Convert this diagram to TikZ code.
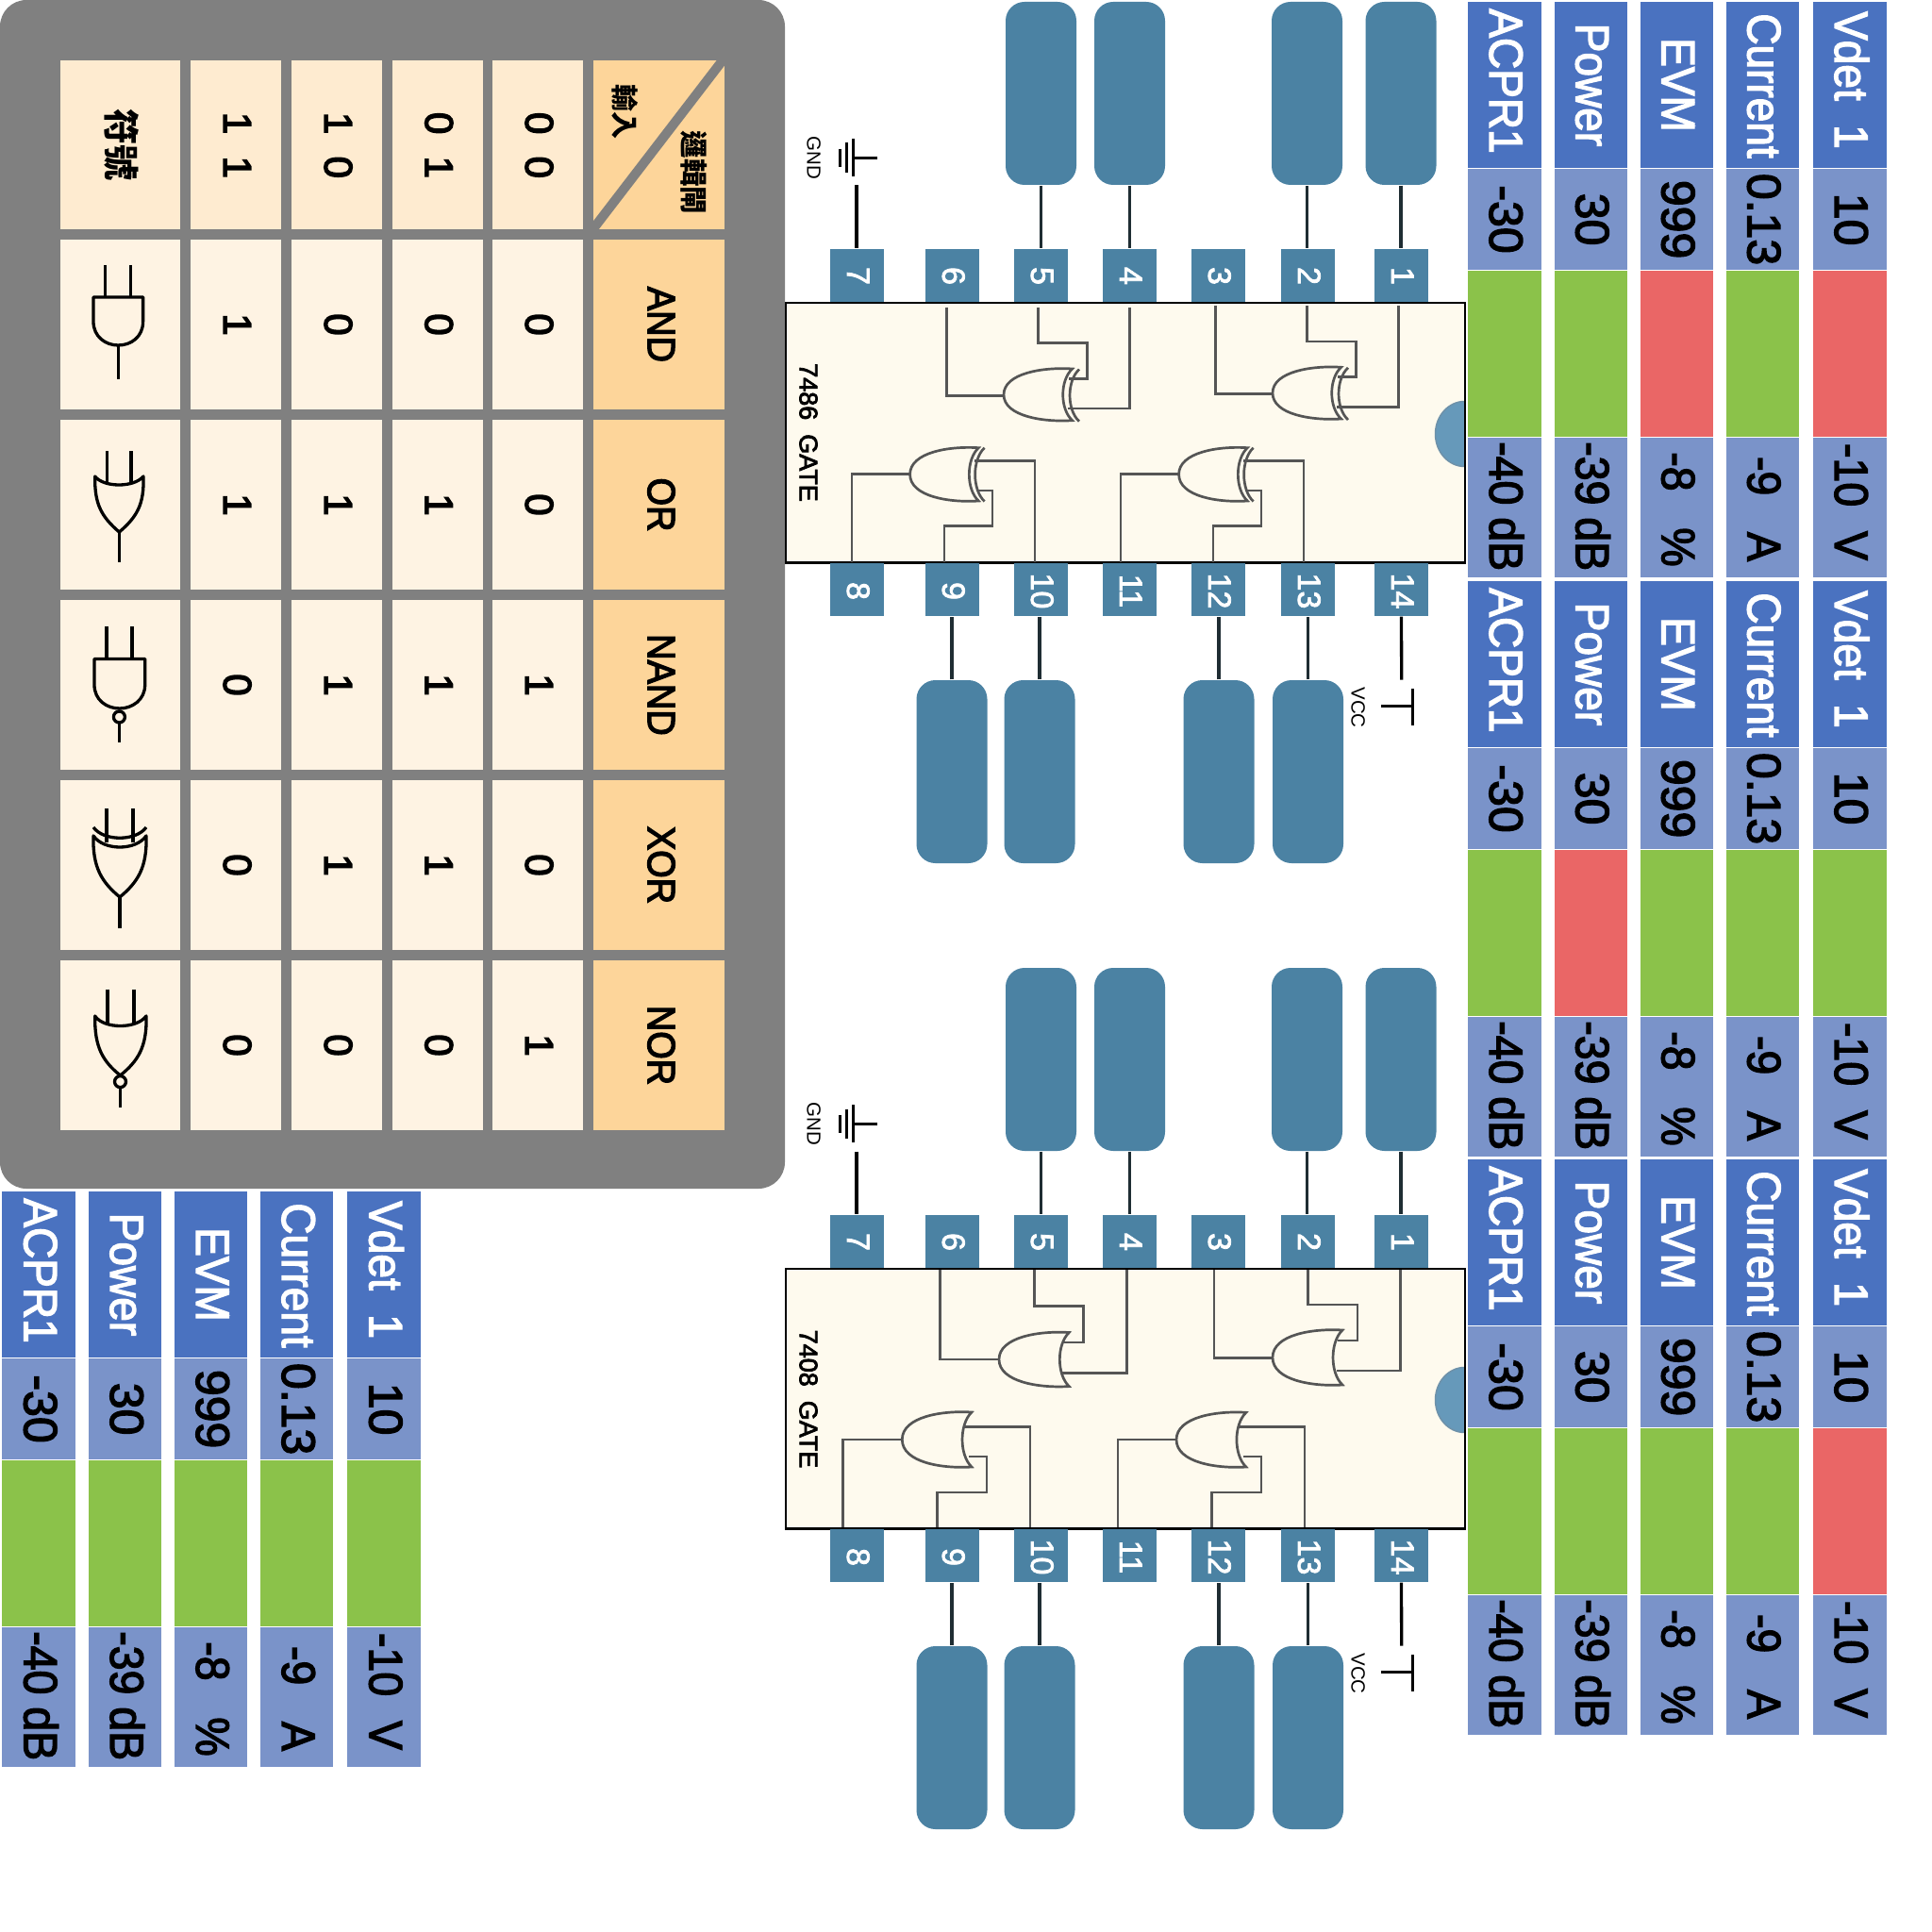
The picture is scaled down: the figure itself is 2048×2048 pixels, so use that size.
\documentclass[tikz,border=0pt]{standalone}
\usepackage{fontspec}
\usepackage{graphicx}
\setmainfont{Liberation Sans}
\newfontfamily\cjkfont{Noto Sans CJK TC}
\definecolor{panelgray}{HTML}{808080}
\definecolor{hdrorange}{HTML}{FDD59A}
\definecolor{rowtop}{HTML}{FEEBD0}
\definecolor{rowlight}{HTML}{FEF3E3}
\definecolor{pinblue}{HTML}{4B82A3}
\definecolor{chipfill}{HTML}{FEFAEE}
\definecolor{notchblue}{HTML}{6699BA}
\definecolor{wiregray}{HTML}{555555}
\definecolor{leaddark}{HTML}{1F2D33}
\definecolor{hdblue}{HTML}{4A72C0}
\definecolor{valblue}{HTML}{7A93C9}
\definecolor{okgreen}{HTML}{8BC24A}
\definecolor{badred}{HTML}{EA6666}
\newcounter{tcnt}
\newcommand{\pxf}[1]{\pgfmathsetmacro\tmpfs{#1*0.2845}\fontsize{\tmpfs pt}{\tmpfs pt}\selectfont}
\newcommand{\thick}{\special{pdf:code 2 Tr 0.4 w}}
\newcommand{\midthick}{\special{pdf:code 2 Tr 0.22 w}}
\newcommand{\unthick}{\special{pdf:code 0 Tr}}
% name x1 y1 x2 y2 style
\newcommand{\rectnode}[6]{%
  \pgfmathsetmacro\rcx{(#2+#4)/2}\pgfmathsetmacro\rcy{(#3+#5)/2}%
  \node[rectangle,inner sep=0pt,minimum width={(#4-#2)*0.1mm},minimum height={(#5-#3)*0.1mm},#6] (#1) at (\rcx,\rcy) {};}
% x y size style text
\newcommand{\tlab}[5]{\stepcounter{tcnt}\pgfmathsetmacro\tlx{#1+0.05*#3}\node[lab={#3},#4] (t\thetcnt) at (\tlx,#2) {#5};}
\tikzset{
  lab/.style={rotate=-90,inner sep=0pt,text height=0.716*#1*0.2845pt,text depth=0pt,font=\pxf{#1}},
  symline/.style={black,line width=0.33mm,line join=round},
  wire/.style={wiregray,line width=0.27mm,line join=miter},
  leadline/.style={leaddark,line width=0.33mm},
  pwrsym/.style={black,line width=0.3mm},
}
% gate body: apex-x tip-x ytop ybottom back-depth
\newcommand{\gatebody}[5]{%
  \pgfmathsetmacro\gc{(#3+#4)/2}\pgfmathsetmacro\gh{#4-#3}\pgfmathsetmacro\gl{#2-#1}%
  \pgfmathsetmacro\gA{#2-0.42*\gl}%
  \pgfmathsetmacro\gD{#2-1.33*#5}\pgfmathsetmacro\gE{\gc-0.28*\gh}\pgfmathsetmacro\gF{\gc+0.28*\gh}%
  \draw[wire] (#2,#3) .. controls (\gA,#3-2) and (#1,\gc-0.42*\gh) .. (#1,\gc)
     .. controls (#1,\gc+0.42*\gh) and (\gA,#4+2) .. (#2,#4)
     .. controls (\gD,\gF) and (\gD,\gE) .. (#2,#3) -- cycle;}
% back arc: tip-x ytop ybottom depth
\newcommand{\gateback}[4]{%
  \pgfmathsetmacro\gc{(#2+#3)/2}\pgfmathsetmacro\gh{#3-#2}\pgfmathsetmacro\gD{#1-1.33*#4}%
  \draw[wire] (#1,#2) .. controls (\gD,\gc-0.28*\gh) and (\gD,\gc+0.28*\gh) .. (#1,#3);}
% prefix dx dy then five status colours
\newcommand{\measblock}[8]{%
  \begin{scope}[shift={(#2,#3)}]
  \foreach \xa/\xb/\hd/\hy/\va/\vb/\vy/\st/\cn in {
     1555/1634/ACPR1/86/-30/{-40 dB}/536.7/#4/a,
     1647/1725/Power/90/30/{-39 dB}/536.7/#5/b,
     1738/1816/EVM/90/999/{-8~~~\%}/540/#6/c,
     1829/1907/Current/91/0.13/{-9~~~A}/539.5/#7/d,
     1921/2000/{Vdet~~1}/85/10/{-10~~V}/532/#8/e}{
    \rectnode{#1\cn h}{\xa}{1}{\xb}{178.4}{fill=hdblue,draw=white,line width=0.05mm}
    \rectnode{#1\cn v}{\xa}{178.4}{\xb}{286.5}{fill=valblue,draw=white,line width=0.05mm}
    \rectnode{#1\cn s}{\xa}{286.5}{\xb}{463.5}{fill=\st,draw=white,line width=0.05mm}
    \rectnode{#1\cn w}{\xa}{463.5}{\xb}{611.8}{fill=valblue,draw=white,line width=0.05mm}
    \pgfmathsetmacro\mx{(\xa+\xb)/2}
    \tlab{\mx}{\hy}{50}{white}{\scalebox{0.92}[1]{\thick\hd\unthick}}
    \tlab{\mx}{232.6}{50}{black}{\thick\va\unthick}
    \tlab{\mx}{\vy}{50}{black}{\scalebox{0.93}[1]{\thick\vb\unthick}}
  }
  \end{scope}}
\begin{document}
\begin{tikzpicture}[x=0.1mm,y=-0.1mm]
\useasboundingbox (0,0) rectangle (2048,2048);
% ===== truth table panel =====
\rectnode{panel}{0}{0}{832}{1260}{fill=panelgray,rounded corners=2.8mm}
\rectnode{corner}{629}{64}{767.5}{243}{fill=hdrorange}
\coordinate (diagA) at (767.5,62);
\coordinate (diagB) at (627,245);
\draw[panelgray,line width=1mm] (diagA) -- (diagB);
\tlab{660}{119}{29}{}{\cjkfont\bfseries 輸入}
\tlab{734}{183}{29.5}{}{\cjkfont\bfseries 邏輯閘}
\rectnode{symhd}{64}{64}{191}{243}{fill=rowtop}
\tlab{126}{154}{38}{}{\cjkfont\bfseries 符號}
\foreach \xa/\xb/\tx/\cn in {202/298/1~~1/a,309/405/1~~0/b,416/511.5/0~~1/c,522/618/0~~0/d}{
  \rectnode{in\cn}{\xa}{64}{\xb}{243}{fill=rowtop}
  \pgfmathsetmacro\mx{(\xa+\xb)/2}
  \tlab{\mx}{154}{42}{}{\thick\tx\unthick}
}
\foreach \yt/\nm/\va/\vb/\vc/\vd in {254/AND/1/0/0/0,445/OR/1/1/1/0,636/NAND/0/1/1/1,827/XOR/0/1/1/0,1018/NOR/0/0/0/1}{
  \pgfmathsetmacro\yb{\yt+180}\pgfmathsetmacro\ym{\yt+90}
  \rectnode{s\nm}{64}{\yt}{191}{\yb}{fill=rowlight}
  \rectnode{a\nm}{202}{\yt}{298}{\yb}{fill=rowlight}
  \rectnode{b\nm}{309}{\yt}{405}{\yb}{fill=rowlight}
  \rectnode{c\nm}{416}{\yt}{511.5}{\yb}{fill=rowlight}
  \rectnode{d\nm}{522}{\yt}{618}{\yb}{fill=rowlight}
  \rectnode{e\nm}{629}{\yt}{767.5}{\yb}{fill=hdrorange}
  \tlab{250}{\ym}{42}{}{\thick\va\unthick}
  \tlab{357}{\ym}{42}{}{\thick\vb\unthick}
  \tlab{463.7}{\ym}{42}{}{\thick\vc\unthick}
  \tlab{570}{\ym}{42}{}{\thick\vd\unthick}
  \tlab{699.5}{\ym}{41}{}{\scalebox{0.925}[1]{\thick\nm\unthick}}
}
% gate symbols
\draw[symline] (111.4,281) -- (111.4,315) (138.7,281) -- (138.7,315);
\draw[symline] (99,315) -- (151.6,315) -- (151.6,341) .. controls (151.6,357) and (139,366) .. (125.3,366) .. controls (112,366) and (99,357) .. (99,341) -- cycle;
\draw[symline] (125.3,366) -- (125.3,402);
\draw[symline] (113.5,478) -- (113.5,512) (139,478) -- (139,512);
\draw[symline] (100.7,505) .. controls (110,517) and (142,517) .. (152,505) .. controls (153,535) and (145,548) .. (126.4,564) .. controls (108,548) and (100,535) .. (100.7,505) -- cycle;
\draw[symline] (126.4,564) -- (126.4,595.5);
\draw[symline] (113,664) -- (113,698.4) (140,664) -- (140,698.4);
\draw[symline] (100,698.4) -- (153.7,698.4) -- (153.7,726) .. controls (153.7,742) and (140,751) .. (126.8,751) .. controls (113,751) and (100,742) .. (100,726) -- cycle;
\draw[symline] (126.4,760) ellipse (6 and 6);
\draw[symline] (126.4,766) -- (126.4,787);
\draw[symline] (113,857) -- (113,893) (141,857) -- (141,893);
\draw[symline] (99,877) .. controls (110,892) and (144,892) .. (155,877);
\draw[symline] (99,886) .. controls (110,902) and (144,902) .. (155,886) .. controls (156,920) and (146,935) .. (127,951) .. controls (108,935) and (98,920) .. (99,886) -- cycle;
\draw[symline] (127,951) -- (127,984);
\draw[symline] (114,1048.6) -- (114,1085) (142,1048.6) -- (142,1085);
\draw[symline] (100.7,1077) .. controls (110,1091) and (145,1091) .. (155,1077) .. controls (156,1110) and (146,1125) .. (127.5,1140) .. controls (109,1125) and (100,1110) .. (100.7,1077) -- cycle;
\draw[symline] (127.5,1146.6) ellipse (6 and 6);
\draw[symline] (127.5,1153) -- (127.5,1174);
% ===== chips =====
\foreach \off/\c/\chipnum/\laby in {0/a/7486/458.5,1024/b/7408/459}{
\begin{scope}[shift={(0,\off)}]
  \rectnode{\c chip}{833.5}{321.5}{1552.5}{596}{fill=chipfill}
  \begin{scope}
    \clip (833,321) rectangle (1552.5,596);
    \draw[notchblue!70!gray,fill=notchblue,line width=0.15mm] (1552.5,460) ellipse (31 and 34.5);
  \end{scope}
  \draw[black,line width=0.25mm] (\c chip.north west) rectangle (\c chip.south east);
  \tlab{856}{\laby}{27}{}{\midthick\chipnum~~GATE\unthick}
  % pins
  \foreach \n/\m/\xl in {7/8/880,6/9/981,5/10/1075,4/11/1169,3/12/1263,2/13/1358,1/14/1457}{
    \pgfmathsetmacro\xr{\xl+57}\pgfmathsetmacro\xm{\xl+28.5}
    \rectnode{\c p\n}{\xl}{264}{\xr}{320}{fill=pinblue}
    \rectnode{\c p\m}{\xl}{596.5}{\xr}{653}{fill=pinblue}
    \tlab{\xm}{292.5}{34}{white}{\midthick\n\unthick}
    \tlab{\xm}{626.5}{34}{white}{\midthick\m\unthick}
  }
  % pads and leads, top
  \foreach \n/\xl in {5/1066,4/1160,2/1348,1/1447.5}{
    \pgfmathsetmacro\xr{\xl+75}
    \rectnode{\c k\n}{\xl}{2}{\xr}{196}{fill=pinblue,rounded corners=2mm}
    \draw[leadline] (\c k\n.south) -- (\c k\n.south |- \c p\n.north);
  }
  % pads and leads, bottom
  \foreach \n/\xl in {9/971.5,10/1064.5,12/1254.5,13/1349}{
    \pgfmathsetmacro\xr{\xl+75}
    \rectnode{\c k\n}{\xl}{721}{\xr}{915}{fill=pinblue,rounded corners=2mm}
    \draw[leadline] (\c k\n.north) -- (\c k\n.north |- \c p\n.south);
  }
  % ground
  \coordinate (\c gnd) at (908,196.5);
  \draw[leadline,black] (\c gnd) -- (\c gnd |- \c p7.north);
  \coordinate (\c gs) at (930,167.5);
  \coordinate (\c gb) at (904.5,167.5);
  \draw[pwrsym] (\c gs) -- (\c gb);
  \draw[pwrsym] (904.5,147) -- (904.5,187) (897,151.5) -- (897,183) (890,158) -- (890,177);
  \tlab{862}{167.5}{20.5}{}{GND}
  % vcc
  \coordinate (\c vcc) at (1485.7,720.6);
  \draw[leadline,black] (\c p14.south) -- (\c vcc);
  \coordinate (\c vs) at (1464.3,748);
  \coordinate (\c vb) at (1497.3,748);
  \draw[pwrsym] (\c vs) -- (\c vb);
  \draw[pwrsym] (1497.3,730) -- (1497.3,769.3);
  \tlab{1439}{750}{20.5}{}{VCC}
\end{scope}}
% ===== 7486 XOR gates =====
\foreach \dx/\dy in {0/0,-285/1.7}{
\begin{scope}[shift={(\dx,\dy)}]
  \draw[wire] (1288.4,324) -- (1288.4,417.5) -- (1349,417.5);
  \gatebody{1349}{1421.7}{389.3}{444}{10}
  \gateback{1429}{389.8}{445}{10}
  \draw[wire] (1482.3,324) -- (1482.3,431.4) -- (1416.8,431.4);
  \draw[wire] (1385.3,324) -- (1385.3,362) -- (1437.2,362) -- (1437.2,399.8) -- (1418,399.8);
\end{scope}}
\foreach \dx in {0,-285}{
\begin{scope}[shift={(\dx,0)}]
  \draw[wire] (1188,595.5) -- (1188,502.5) -- (1249.6,502.5);
  \gatebody{1249.6}{1322.3}{474.7}{531}{10}
  \gateback{1328.6}{474.7}{531.5}{10}
  \draw[wire] (1382,595.5) -- (1382,488.6) -- (1317.5,488.6);
  \draw[wire] (1286,595.5) -- (1286,557.7) -- (1336.9,557.7) -- (1336.9,520) -- (1320,520);
\end{scope}}
% ===== 7408 OR gates =====
\draw[wire] (1287,1346) -- (1287,1439.3) -- (1349,1439.3);
\gatebody{1349}{1423}{1410}{1468}{10}
\draw[wire] (1484.7,1346) -- (1484.7,1453) -- (1417,1453);
\draw[wire] (1386.3,1346) -- (1386.3,1383) -- (1439,1383) -- (1439,1421) -- (1418,1421);
\draw[wire] (996.6,1346) -- (996.6,1441) -- (1059,1441);
\gatebody{1059}{1133.3}{1412.5}{1469.6}{10}
\draw[wire] (1194.3,1346) -- (1194.3,1455.8) -- (1126,1455.8);
\draw[wire] (1096.4,1346) -- (1096.4,1384.8) -- (1148.8,1384.8) -- (1148.8,1423) -- (1128.4,1423);
\draw[wire] (1185,1618.7) -- (1185,1526) -- (1247,1526);
\gatebody{1247}{1320.9}{1497.3}{1555}{10}
\draw[wire] (1383,1618.7) -- (1383,1512.5) -- (1313.6,1512.5);
\draw[wire] (1284.5,1618.7) -- (1284.5,1582) -- (1336.9,1582) -- (1336.9,1544) -- (1317.5,1544);
\draw[wire] (893.8,1618.7) -- (893.8,1526) -- (956.3,1526);
\gatebody{956.3}{1030}{1497}{1555}{10}
\draw[wire] (1092,1618.7) -- (1092,1512.5) -- (1023,1512.5);
\draw[wire] (993.7,1618.7) -- (993.7,1582) -- (1046,1582) -- (1046,1544) -- (1026.6,1544);
% ===== measurement tables =====
\measblock{m}{0}{0}{okgreen}{okgreen}{badred}{okgreen}{badred}
\measblock{n}{0}{614}{okgreen}{badred}{okgreen}{okgreen}{okgreen}
\measblock{o}{0}{1227}{okgreen}{okgreen}{okgreen}{okgreen}{badred}
\measblock{q}{-1553.5}{1261}{okgreen}{okgreen}{okgreen}{okgreen}{okgreen}
\end{tikzpicture}
\end{document}
